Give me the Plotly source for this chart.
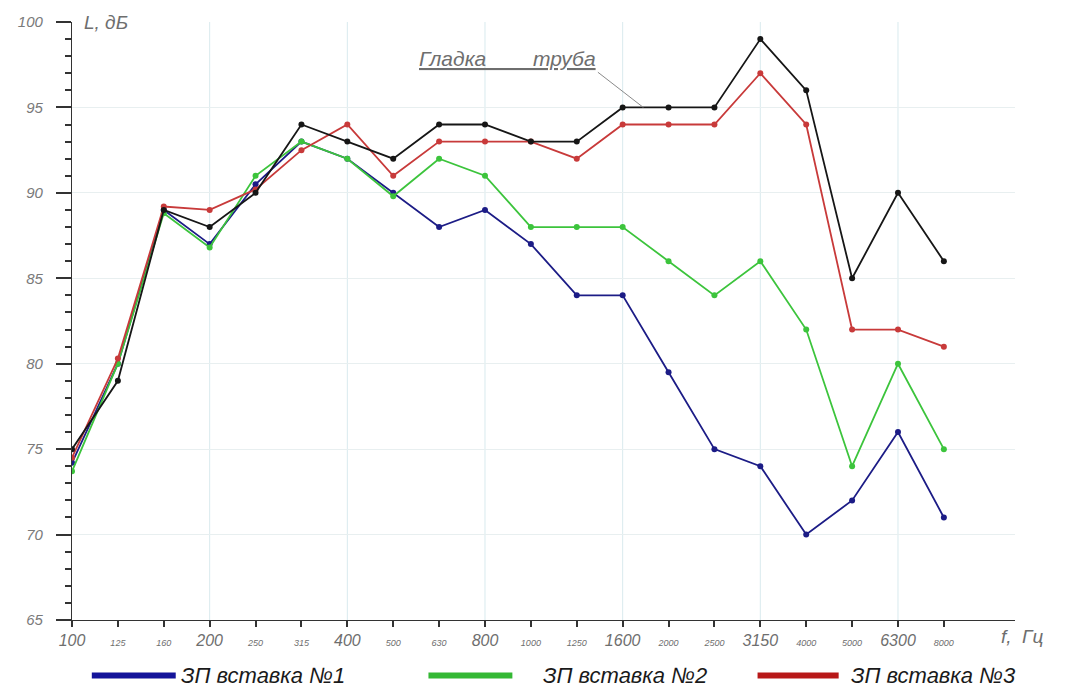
import plotly.graph_objects as go

# Octave-band centre frequencies, Hz
freqs = ["100", "125", "160", "200", "250", "315", "400", "500", "630", "800",
         "1000", "1250", "1600", "2000", "2500", "3150", "4000", "5000", "6300", "8000"]

# Sound level, dB
smooth_pipe = [75, 79, 89, 88, 90, 94, 93, 92, 94, 94,
               93, 93, 95, 95, 95, 99, 96, 85, 90, 86]
insert_1 = [74.2, 80, 89, 87, 90.5, 93, 92, 90, 88, 89,
            87, 84, 84, 79.5, 75, 74, 70, 72, 76, 71]
insert_2 = [73.7, 80, 88.8, 86.8, 91, 93, 92, 89.8, 92, 91,
            88, 88, 88, 86, 84, 86, 82, 74, 80, 75]
insert_3 = [74.5, 80.3, 89.2, 89, 90.2, 92.5, 94, 91, 93, 93,
            93, 92, 94, 94, 94, 97, 94, 82, 82, 81]

series_names = ["ЗП вставка №1", "ЗП вставка №2", "ЗП вставка №3"]
series_values = [insert_1, insert_2, insert_3]
series_colors = ["#1c1c86", "#3cc43c", "#c83a3a"]
legend_colors = ["#14149a", "#34b834", "#b81818"]

smooth_label = "Гладка" + "&nbsp;" * 8 + "труба"

FONT = "Liberation Sans"
GREY = "#6e6e6e"

x = list(range(len(freqs)))

# every third band gets a large label and a vertical grid line
tick_text = []
for i, f in enumerate(freqs):
    size = 16 if i % 3 == 0 else 9
    tick_text.append(f"<span style='font-size:{size}px'>{f}</span>")

fig = go.Figure()

for name, vals, col in zip(series_names, series_values, series_colors):
    fig.add_trace(go.Scatter(
        x=x, y=vals, name=name, mode="lines+markers",
        line=dict(color=col, width=1.8),
        marker=dict(color=col, size=6),
        showlegend=False,
    ))

fig.add_trace(go.Scatter(
    x=x, y=smooth_pipe, name="Гладка труба", mode="lines+markers",
    line=dict(color="#161616", width=1.8),
    marker=dict(color="#161616", size=6),
    showlegend=False,
))

# vertical grid lines every third band
for i in range(3, len(freqs), 3):
    fig.add_shape(type="line", xref="x", yref="y", x0=i, x1=i, y0=65, y1=100,
                  line=dict(color="#d9eaee", width=1), layer="below")

# label for the smooth pipe curve with a leader line
fig.add_annotation(
    x=11.46, y=97.06, xref="x", yref="y", xanchor="right", yanchor="bottom",
    text=smooth_label, showarrow=False,
    font=dict(family=FONT, size=21, color=GREY, style="italic", lineposition="under"),
)
fig.add_shape(type="line", xref="x", yref="y", x0=11.46, y0=97.06, x1=12.45, y1=95,
              line=dict(color="#8a8a8a", width=1))

# axis captions
fig.add_annotation(x=0, y=100, xref="x", yref="y", xanchor="left", yanchor="middle",
                   xshift=10, text="L, дБ", showarrow=False,
                   font=dict(family=FONT, size=19, color=GREY, style="italic"))
fig.add_annotation(x=1.0, y=0, xref="paper", yref="paper", xanchor="right", yanchor="top",
                   xshift=30, yshift=-4, text="f,&nbsp;&nbsp;Гц", showarrow=False,
                   font=dict(family=FONT, size=19, color=GREY, style="italic"))

# legend drawn below the axes
legend_x = [(0.021, 0.110, 0.113), (0.378, 0.467, 0.497), (0.727, 0.813, 0.824)]
for (x0, x1, xt), name, col in zip(legend_x, series_names, legend_colors):
    fig.add_shape(type="line", xref="paper", yref="paper", x0=x0, x1=x1,
                  y0=-0.093, y1=-0.093, line=dict(color=col, width=6))
    fig.add_annotation(x=xt, y=-0.093, xref="paper", yref="paper",
                       xanchor="left", yanchor="middle", text=name, showarrow=False,
                       font=dict(family=FONT, size=22, color="#1a1a1a", style="italic"))

fig.update_layout(
    width=1073, height=689,
    margin=dict(l=72, r=58, t=22, b=69),
    paper_bgcolor="white", plot_bgcolor="white",
    font=dict(family=FONT, color=GREY),
    xaxis=dict(
        range=[0, 20.55], tickmode="array", tickvals=x, ticktext=tick_text,
        showgrid=False, zeroline=False,
        showline=True, linecolor="#333", linewidth=1.3,
        ticks="outside", ticklen=6, tickwidth=1.5, tickcolor="#333",
        tickfont=dict(family=FONT, size=16, color=GREY, style="italic"),
    ),
    yaxis=dict(
        range=[65, 100], tickmode="linear", tick0=65, dtick=5,
        showgrid=True, gridcolor="#e8eff0", gridwidth=1, zeroline=False,
        showline=True, linecolor="#333", linewidth=1.3,
        ticks="outside", ticklen=15, tickwidth=1.5, tickcolor="#333", ticklabelstandoff=10,
        tickfont=dict(family=FONT, size=15, color="#7a7a7a", style="italic"),
        minor=dict(dtick=1, tick0=65, ticks="outside", ticklen=6, tickwidth=1.5,
                   tickcolor="#333", showgrid=False),
    ),
)

fig.write_html("out.html")
